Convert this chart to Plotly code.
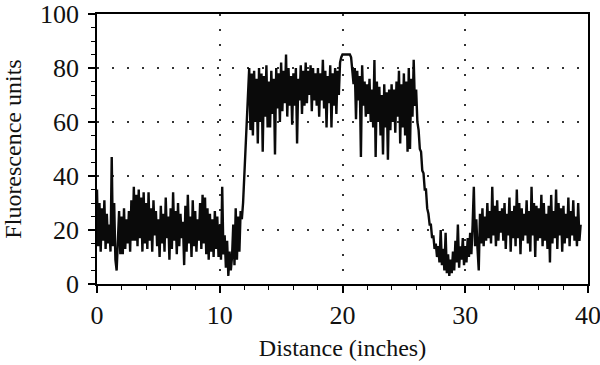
import plotly.graph_objects as go

# Sampling step along the distance axis (inches)
step = 0.1

# Fluorescence readings, one group of 10 per inch
fluor_00_09 = [35, 14, 30, 12, 28, 16, 31, 13, 26, 15]
fluor_01 = [22, 12, 47, 14, 30, 9, 5, 18, 27, 11]
fluor_02 = [25, 11, 28, 13, 24, 15, 27, 12, 31, 16]
fluor_03 = [36, 16, 33, 14, 35, 17, 32, 12, 34, 15]
fluor_04 = [30, 13, 34, 16, 28, 12, 31, 18, 27, 14]
fluor_05 = [24, 10, 29, 15, 26, 12, 32, 17, 25, 9]
fluor_06 = [28, 13, 34, 16, 27, 11, 30, 14, 26, 17]
fluor_07 = [23, 7, 29, 12, 33, 15, 25, 10, 31, 14]
fluor_08 = [27, 12, 24, 16, 30, 13, 33, 15, 32, 11]
fluor_09 = [28, 9, 26, 12, 24, 10, 27, 13, 25, 10]
fluor_10 = [22, 9, 36, 11, 18, 6, 16, 3, 12, 5]
fluor_11 = [10, 22, 7, 28, 9, 25, 12, 27, 24, 30]
fluor_12 = [40, 50, 62, 72, 80, 57, 78, 55, 79, 60]
fluor_13 = [76, 52, 80, 60, 78, 49, 77, 62, 81, 58]
fluor_14 = [75, 58, 79, 63, 76, 48, 80, 65, 78, 60]
fluor_15 = [82, 64, 79, 67, 85, 62, 80, 66, 77, 59]
fluor_16 = [78, 66, 80, 52, 76, 68, 81, 63, 79, 66]
fluor_17 = [82, 67, 79, 70, 81, 64, 80, 68, 78, 66]
fluor_18 = [80, 62, 78, 68, 83, 65, 79, 58, 77, 67]
fluor_19 = [81, 58, 78, 66, 80, 63, 79, 70, 82, 84]
fluor_20 = [85, 85, 85, 85, 85, 85, 85, 84, 80, 74]
fluor_21 = [80, 61, 79, 68, 77, 47, 81, 66, 75, 62]
fluor_22 = [74, 63, 76, 60, 72, 58, 83, 47, 75, 60]
fluor_23 = [73, 55, 70, 48, 74, 58, 71, 46, 72, 57]
fluor_24 = [74, 60, 72, 56, 75, 62, 79, 52, 74, 58]
fluor_25 = [78, 55, 75, 49, 80, 50, 76, 62, 83, 66]
fluor_26 = [72, 60, 57, 50, 49, 42, 41, 35, 35, 28]
fluor_27 = [26, 22, 22, 17, 18, 13, 15, 10, 14, 8]
fluor_28 = [20, 7, 13, 5, 19, 4, 11, 3, 9, 4]
fluor_29 = [12, 5, 16, 8, 22, 6, 14, 9, 17, 7]
fluor_30 = [14, 8, 17, 10, 19, 11, 22, 36, 14, 24]
fluor_31 = [13, 5, 26, 15, 28, 14, 25, 16, 30, 17]
fluor_32 = [27, 15, 36, 18, 29, 14, 31, 16, 27, 19]
fluor_33 = [28, 16, 30, 13, 26, 18, 32, 12, 27, 17]
fluor_34 = [29, 14, 35, 17, 30, 11, 28, 16, 26, 18]
fluor_35 = [31, 15, 27, 12, 36, 18, 30, 10, 29, 16]
fluor_36 = [28, 17, 33, 14, 30, 16, 26, 13, 29, 8]
fluor_37 = [33, 15, 27, 17, 35, 13, 30, 18, 28, 12]
fluor_38 = [29, 15, 26, 17, 32, 14, 27, 18, 31, 16]
fluor_39 = [25, 14, 30, 16, 22]

fluorescence = (fluor_00_09 + fluor_01 + fluor_02 + fluor_03 + fluor_04 + fluor_05
                + fluor_06 + fluor_07 + fluor_08 + fluor_09 + fluor_10 + fluor_11
                + fluor_12 + fluor_13 + fluor_14 + fluor_15 + fluor_16 + fluor_17
                + fluor_18 + fluor_19 + fluor_20 + fluor_21 + fluor_22 + fluor_23
                + fluor_24 + fluor_25 + fluor_26 + fluor_27 + fluor_28 + fluor_29
                + fluor_30 + fluor_31 + fluor_32 + fluor_33 + fluor_34 + fluor_35
                + fluor_36 + fluor_37 + fluor_38 + fluor_39)
distance = [round(i * step, 1) for i in range(len(fluorescence))]

x_ticks = [0, 10, 20, 30, 40]
y_ticks = [0, 20, 40, 60, 80, 100]

FONT = "Liberation Serif"

fig = go.Figure()
fig.add_trace(go.Scatter(
    x=distance, y=fluorescence, mode="lines",
    line=dict(color="#0a0a0a", width=2.4),
    showlegend=False, hoverinfo="skip",
))

axis_common = dict(
    showline=True, linecolor="black", linewidth=1.5, mirror=True,
    ticks="outside", ticklen=7, tickwidth=1.5, tickcolor="black",
    showgrid=True, gridcolor="#333333", gridwidth=1.5, griddash="2px,13px",
    zeroline=False, automargin=False, ticklabeloverflow="allow",
    tickfont=dict(family=FONT, size=26, color="#111111"),
)

fig.update_xaxes(
    range=[0, 40], tickvals=x_ticks,
    minor=dict(dtick=2, tick0=0, ticks="outside", ticklen=4, tickwidth=1.2,
               tickcolor="black", showgrid=False),
    title=dict(text="Distance (inches)", font=dict(family=FONT, size=24, color="#111111"),
               standoff=10),
    **axis_common,
)
fig.update_yaxes(
    range=[0, 100], tickvals=y_ticks, ticklabelstandoff=4,
    minor=dict(dtick=5, tick0=0, ticks="outside", ticklen=4, tickwidth=1.2,
               tickcolor="black", showgrid=False),
    title=dict(text="Fluorescence units", font=dict(family=FONT, size=24, color="#111111"),
               standoff=22),
    **axis_common,
)

fig.update_layout(
    width=600, height=365,
    margin=dict(l=97, r=12, t=14, b=81),
    paper_bgcolor="white", plot_bgcolor="white",
)

# remove the default page margin so the figure fills the window exactly
fig.write_html("out.html", config={"displayModeBar": False},
               post_script="document.body.style.margin='0px';")
